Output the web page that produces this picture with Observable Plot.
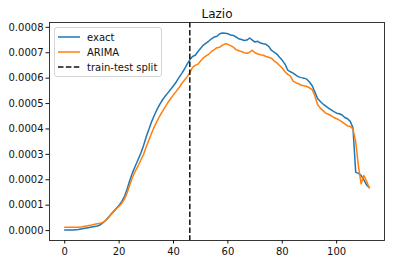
<!DOCTYPE html>
<html>
<head>
<meta charset="utf-8">
<script src="https://cdn.jsdelivr.net/npm/d3@7"></script>
<script src="https://cdn.jsdelivr.net/npm/@observablehq/plot@0.6"></script>
<style>
  html, body { margin: 0; padding: 0; background: #fff; }
  #wrap { position: relative; width: 394px; height: 264px; font-family: "DejaVu Sans", sans-serif; }
  #legend { position: absolute; left: 54px; top: 27px; width: 106px; height: 48px;
    border: 1px solid #d4d4d4; border-radius: 3px; background: rgba(255,255,255,0.85);
    font-size: 10px; color: #111; }
  .row { position: absolute; left: 3px; height: 14px; display: flex; align-items: center; }
  .row svg { margin-right: 7px; }
</style>
</head>
<body>
<div id="wrap"><div id="legend"></div></div>
<script>
const title = "Lazio";
const seriesNames = ["exact", "ARIMA"];
const seriesColors = ["#1f77b4", "#ff7f0e"];
const splitLabel = "train-test split";
const splitDay = 46;
const xTicks = [0, 20, 40, 60, 80, 100];
const yTicks = [0, 0.0001, 0.0002, 0.0003, 0.0004, 0.0005, 0.0006, 0.0007, 0.0008];

// exact series, day 0..112
const exact = [
  0.000002,0.000002,0.000002,0.000002,0.000003,0.000004,0.000006,0.000008,0.000010,0.000012,
  0.000014,0.000016,0.000018,0.000022,0.000030,0.000040,0.000052,0.000064,0.000076,0.000088,
  0.000100,0.000115,0.000135,0.000165,0.000200,0.000230,0.000255,0.000280,0.000305,0.000335,
  0.000370,0.000400,0.000430,0.000455,0.000478,0.000498,0.000515,0.000530,0.000543,0.000556,
  0.000570,0.000585,0.000602,0.000618,0.000635,0.000655,0.000672,0.000685,0.000690,0.000705,
  0.000718,0.000730,0.000738,0.000746,0.000755,0.000762,0.000765,0.000775,0.000778,0.000777,
  0.000775,0.000770,0.000768,0.000762,0.000755,0.000752,0.000748,0.000750,0.000758,0.000750,
  0.000742,0.000745,0.000738,0.000735,0.000733,0.000725,0.000710,0.000702,0.000695,0.000682,
  0.000670,0.000655,0.000632,0.000625,0.000620,0.000612,0.000605,0.000602,0.000600,0.000596,
  0.000585,0.000570,0.000545,0.000520,0.000508,0.000498,0.000490,0.000482,0.000475,0.000468,
  0.000462,0.000460,0.000455,0.000445,0.000440,0.000430,0.000405,0.000230,0.000225,0.000217,
  0.000200,0.000180,0.000170
];
// ARIMA series, day 0..112
const arima = [
  0.000013,0.000013,0.000013,0.000013,0.000013,0.000013,0.000014,0.000016,0.000018,0.000020,
  0.000022,0.000025,0.000027,0.000029,0.000032,0.000040,0.000050,0.000062,0.000074,0.000086,
  0.000096,0.000108,0.000125,0.000150,0.000182,0.000212,0.000235,0.000255,0.000278,0.000300,
  0.000330,0.000358,0.000385,0.000410,0.000432,0.000452,0.000470,0.000488,0.000505,0.000520,
  0.000535,0.000548,0.000562,0.000578,0.000592,0.000605,0.000622,0.000642,0.000650,0.000655,
  0.000668,0.000680,0.000688,0.000695,0.000705,0.000712,0.000720,0.000722,0.000730,0.000735,
  0.000733,0.000728,0.000722,0.000712,0.000708,0.000705,0.000700,0.000698,0.000702,0.000710,
  0.000700,0.000695,0.000692,0.000690,0.000685,0.000682,0.000678,0.000668,0.000660,0.000650,
  0.000640,0.000625,0.000615,0.000608,0.000588,0.000582,0.000578,0.000572,0.000570,0.000567,
  0.000562,0.000555,0.000530,0.000495,0.000482,0.000472,0.000462,0.000458,0.000452,0.000445,
  0.000440,0.000435,0.000428,0.000420,0.000412,0.000410,0.000400,0.000350,0.000255,0.000184,
  0.000217,0.000195,0.000168
];

const days = exact.map((_, i) => i);
const rows = [
  ...days.map(i => ({day: i, value: exact[i], series: seriesNames[0]})),
  ...days.map(i => ({day: i, value: arima[i], series: seriesNames[1]}))
];

const chart = Plot.plot({
  width: 394,
  height: 264,
  marginLeft: 49,
  marginRight: 10,
  marginTop: 22,
  marginBottom: 24,
  style: {fontFamily: "DejaVu Sans, sans-serif", fontSize: "10px", background: "#fff", color: "#111"},
  x: {domain: [-5.6, 117.6]},
  y: {domain: [-0.000039, 0.000819]},
  color: {domain: seriesNames, range: seriesColors},
  marks: [
    Plot.line(rows, {x: "day", y: "value", z: "series", stroke: "series", strokeWidth: 1.5}),
    Plot.ruleX([splitDay], {stroke: "#111", strokeWidth: 1.5, strokeDasharray: "5.5,2.4"}),
    Plot.frame({stroke: "#222", strokeWidth: 0.9}),
    Plot.axisX({ticks: xTicks, tickFormat: d => String(d), tickSize: 3.5, tickPadding: 3.5, label: null, fontSize: 10}),
    Plot.axisY({ticks: yTicks, tickFormat: d3.format(".4f"), tickSize: 3.5, tickPadding: 2.5, label: null, fontSize: 10}),
    Plot.text([title], {frameAnchor: "top", lineAnchor: "bottom", dy: -5, fontSize: 12, fill: "#111"})
  ]
});
document.getElementById("wrap").prepend(chart);

const legend = document.getElementById("legend");
const entries = [
  {label: seriesNames[0], color: seriesColors[0], dash: null},
  {label: seriesNames[1], color: seriesColors[1], dash: null},
  {label: splitLabel, color: "#111", dash: "5.5,2.4"}
];
entries.forEach((e, i) => {
  const row = document.createElement("div");
  row.className = "row";
  row.style.top = (2 + i * 15) + "px";
  row.innerHTML = `<svg width="22" height="6"><line x1="0" x2="22" y1="3" y2="3" stroke="${e.color}" stroke-width="1.5" ${e.dash ? `stroke-dasharray="${e.dash}"` : ""}/></svg><span>${e.label}</span>`;
  legend.appendChild(row);
});
</script>
</body>
</html>
